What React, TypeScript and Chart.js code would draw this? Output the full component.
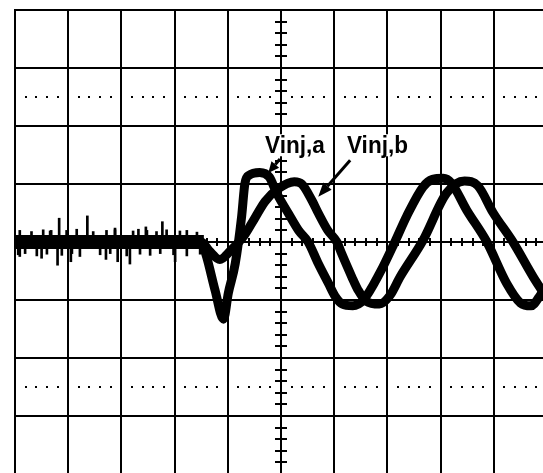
import React, { useEffect, useRef } from "react";
import { Chart, registerables } from "chart.js";

Chart.register(...registerables);

// Oscilloscope screen: 10 horizontal divisions, 8 vertical divisions (-4..4)
const xDivisions = [0, 10];
const yDivisions = [-4, 4];
const dottedRows = [2.5, -2.5];

// Vinj,a trace (divisions)
const traceAX = [0, 3.5, 3.6, 3.76, 3.92, 4.01, 4.14, 4.26, 4.32, 4.4, 4.6, 4.78, 4.92, 5.14, 5.33, 5.51, 5.7, 5.89, 6.02, 6.15, 6.35, 6.55, 6.86, 7.14, 7.36, 7.67, 7.85, 8.05, 8.2, 8.49, 8.87, 9.24, 9.5, 9.7, 9.85, 9.95];
const traceAY = [0, 0, -0.25, -0.83, -1.33, -0.88, -0.37, 0.44, 1.0, 1.15, 1.2, 1.12, 0.84, 0.49, 0.2, 0, -0.37, -0.71, -0.94, -1.07, -1.1, -1.0, -0.53, 0, 0.44, 0.95, 1.08, 1.1, 1.02, 0.55, 0, -0.71, -1.05, -1.1, -0.95, -0.8];

// Vinj,b trace (divisions)
const traceBX = [0, 3.5, 3.65, 3.85, 4.05, 4.3, 4.5, 4.7, 4.95, 5.25, 5.39, 5.58, 5.7, 5.88, 6.05, 6.14, 6.33, 6.45, 6.6, 6.85, 7.05, 7.24, 7.67, 8.11, 8.45, 8.7, 8.99, 9.36, 9.74, 9.95];
const traceBY = [0, 0, -0.15, -0.3, -0.15, 0.1, 0.4, 0.7, 0.92, 1.04, 1.0, 0.72, 0.5, 0.2, 0, -0.2, -0.6, -0.83, -1.02, -1.07, -0.92, -0.6, 0.03, 0.84, 1.05, 0.97, 0.5, 0, -0.6, -0.9];

// noisy pre-injection floor shared by both traces
const floorX = [0, 3.55];
const floorY = [0, 0];

// tall noise spikes on the floor
const spikeX = [0.09, 0.5, 0.68, 0.8, 0.83, 1.05, 1.36, 1.71, 1.88, 1.93, 2.16, 2.46, 2.77, 3.01];
const spikeY = [-0.25, -0.28, 0.2, -0.4, 0.41, -0.34, 0.45, -0.3, 0.24, -0.34, -0.38, 0.26, 0.35, -0.34];

// short noise hairs along the floor band edges
const hairX = [0.09, 0.31, 0.53, 0.66, 0.97, 1.16, 1.47, 1.72, 1.88, 2.22, 2.32, 2.48, 2.66, 2.85, 3.1, 3.23, 3.42,
  0.06, 0.19, 0.41, 0.6, 0.88, 1.07, 1.22, 1.6, 1.79, 2.1, 2.35, 2.54, 2.73, 2.98, 3.23, 3.48];
const hairY = [0.2, 0.18, 0.21, 0.19, 0.2, 0.22, 0.18, 0.2, 0.21, 0.19, 0.22, 0.2, 0.18, 0.21, 0.19, 0.2, 0.17,
  -0.22, -0.2, -0.24, -0.21, -0.23, -0.2, -0.25, -0.22, -0.2, -0.24, -0.21, -0.23, -0.2, -0.22, -0.24, -0.21];

const labelA = "Vinj,a";
const labelB = "Vinj,b";

const scopeGrid = {
  id: "scopeGrid",
  beforeDatasetsDraw(chart: any) {
    const { ctx, chartArea, scales } = chart;
    const x = scales.x;
    const y = scales.y;
    ctx.save();
    ctx.fillStyle = "#ffffff";
    ctx.fillRect(0, 0, chart.width, chart.height);
    ctx.strokeStyle = "#000000";
    ctx.lineWidth = 2;
    ctx.beginPath();
    for (let i = xDivisions[0]; i <= xDivisions[1]; i++) {
      const px = Math.round(x.getPixelForValue(i));
      ctx.moveTo(px, chartArea.top - 1);
      ctx.lineTo(px, chartArea.bottom + 1);
    }
    for (let j = yDivisions[0]; j <= yDivisions[1]; j++) {
      const py = Math.round(y.getPixelForValue(j));
      ctx.moveTo(chartArea.left - 1, py);
      ctx.lineTo(chartArea.right + 1, py);
    }
    ctx.stroke();

    // dotted rows
    ctx.fillStyle = "#000000";
    for (const r of dottedRows) {
      const py = Math.round(y.getPixelForValue(r));
      for (let k = 1; k < 50; k++) {
        if (k % 5 === 0) continue;
        const px = Math.round(x.getPixelForValue(k * 0.2));
        ctx.fillRect(px - 1, py - 1, 2, 2);
      }
    }

    // centre axis minor ticks
    const cx = Math.round(x.getPixelForValue(5));
    const cy = Math.round(y.getPixelForValue(0));
    ctx.lineWidth = 2;
    ctx.beginPath();
    for (let k = -20; k <= 20; k++) {
      if (k % 5 === 0) continue;
      const py = Math.round(y.getPixelForValue(k * 0.2));
      ctx.moveTo(cx - 6, py);
      ctx.lineTo(cx + 6, py);
    }
    for (let k = 1; k < 50; k++) {
      if (k % 5 === 0) continue;
      const px = Math.round(x.getPixelForValue(k * 0.2));
      ctx.moveTo(px, cy - 4);
      ctx.lineTo(px, cy + 4);
    }
    ctx.stroke();
    ctx.restore();
  },
};

function drawArrow(ctx: CanvasRenderingContext2D, x0: number, y0: number, x1: number, y1: number, head: number, width: number) {
  const ang = Math.atan2(y1 - y0, x1 - x0);
  const bx = x1 - head * Math.cos(ang);
  const by = y1 - head * Math.sin(ang);
  ctx.beginPath();
  ctx.moveTo(x0, y0);
  ctx.lineTo(bx, by);
  ctx.stroke();
  ctx.beginPath();
  ctx.moveTo(x1, y1);
  ctx.lineTo(bx + (width / 2) * Math.sin(ang), by - (width / 2) * Math.cos(ang));
  ctx.lineTo(bx - (width / 2) * Math.sin(ang), by + (width / 2) * Math.cos(ang));
  ctx.closePath();
  ctx.fill();
}

const scopeLabels = {
  id: "scopeLabels",
  afterDatasetsDraw(chart: any) {
    const { ctx, scales } = chart;
    const x = scales.x;
    const y = scales.y;
    ctx.save();
    ctx.font = "bold 24px 'Liberation Sans', Arial, sans-serif";
    ctx.textBaseline = "alphabetic";
    ctx.textAlign = "left";
    const sx = 0.94;
    const items = [
      { t: labelA, xv: 4.7, yv: 1.53 },
      { t: labelB, xv: 6.24, yv: 1.53 },
    ];
    for (const it of items) {
      const px = x.getPixelForValue(it.xv);
      const py = y.getPixelForValue(it.yv);
      const w = ctx.measureText(it.t).width * sx;
      ctx.fillStyle = "#ffffff";
      ctx.fillRect(px - 1, py - 19, w + 2, 22);
      ctx.fillStyle = "#000000";
      ctx.save();
      ctx.translate(px, py);
      ctx.scale(sx, 1);
      ctx.fillText(it.t, 0, 0);
      ctx.restore();
    }
    ctx.strokeStyle = "#000000";
    ctx.fillStyle = "#000000";
    ctx.lineWidth = 3;
    drawArrow(ctx, x.getPixelForValue(4.98), y.getPixelForValue(1.43), x.getPixelForValue(4.76), y.getPixelForValue(1.19), 11, 10);
    drawArrow(ctx, x.getPixelForValue(6.3), y.getPixelForValue(1.41), x.getPixelForValue(5.7), y.getPixelForValue(0.78), 14, 11);
    ctx.restore();
  },
};

export default function App() {
  const ref = useRef<HTMLCanvasElement>(null);
  useEffect(() => {
    const canvas = ref.current;
    if (!canvas) return;
    const toPts = (xs: number[], ys: number[]) => xs.map((v, i) => ({ x: v, y: ys[i] }));
    const chart = new Chart(canvas, {
      type: "line",
      data: {
        datasets: [
          {
            type: "line",
            label: "floor",
            data: toPts(floorX, floorY),
            borderColor: "#000000",
            borderWidth: 14,
            pointRadius: 0,
            borderCapStyle: "butt",
          },
          {
            type: "bar",
            label: "spikes",
            data: spikeX.map((v, i) => ({ x: v, y: [0, spikeY[i]] })),
            backgroundColor: "#000000",
            barThickness: 2,
            grouped: false,
          } as any,
          {
            type: "bar",
            label: "hairs",
            data: hairX.map((v, i) => ({ x: v, y: [0, hairY[i]] })),
            backgroundColor: "#000000",
            barThickness: 2,
            grouped: false,
          } as any,
          {
            type: "line",
            label: labelA,
            data: toPts(traceAX, traceAY),
            borderColor: "#000000",
            borderWidth: 9,
            pointRadius: 0,
            cubicInterpolationMode: "monotone",
            borderJoinStyle: "round",
          },
          {
            type: "line",
            label: labelB,
            data: toPts(traceBX, traceBY),
            borderColor: "#000000",
            borderWidth: 9,
            pointRadius: 0,
            cubicInterpolationMode: "monotone",
            borderJoinStyle: "round",
          },
        ],
      },
      options: {
        animation: false,
        responsive: false,
        maintainAspectRatio: false,
        devicePixelRatio: 1,
        layout: { padding: { left: 15, top: 10, right: 13, bottom: 16 } },
        plugins: { legend: { display: false }, tooltip: { enabled: false } },
        scales: {
          x: { type: "linear", min: xDivisions[0], max: xDivisions[1], display: false, offset: false },
          y: { type: "linear", min: yDivisions[0], max: yDivisions[1], display: false },
        },
      },
      plugins: [scopeGrid, scopeLabels],
    } as any);
    return () => chart.destroy();
  }, []);
  return (
    <div style={{ position: "fixed", left: 0, top: 0, width: 543, height: 473, overflow: "hidden", background: "#ffffff" }}>
      <canvas ref={ref} width={560} height={490} style={{ display: "block", width: 560, height: 490 }} />
    </div>
  );
}
